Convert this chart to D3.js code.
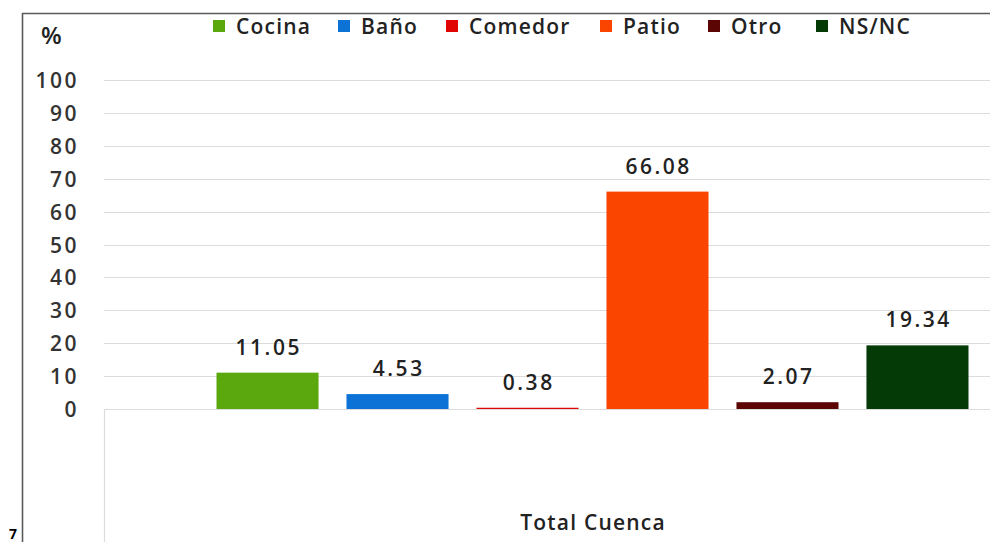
<!DOCTYPE html>
<html><head><meta charset="utf-8">
<script src="https://cdn.jsdelivr.net/npm/d3@7"></script>
<style>body{margin:0;background:#fff}svg{display:block}text{font-family:"Open Sans",sans-serif}</style>
</head><body>
<svg id="c" width="990" height="542"></svg>
<script>
const categories = ["Total Cuenca"];
const series = ["Cocina", "Baño", "Comedor", "Patio", "Otro", "NS/NC"];
const values = [11.05, 4.53, 0.38, 66.08, 2.07, 19.34];
const colors = ["#5aa80e", "#0c72d6", "#e00404", "#f94500", "#5b0505", "#033a06"];
const yTicks = [0, 10, 20, 30, 40, 50, 60, 70, 80, 90, 100];

const svg = d3.select("#c");
const W = 990, H = 542;

// frame
svg.append("line").attr("x1", 22).attr("x2", W).attr("y1", 13.5).attr("y2", 13.5).attr("stroke", "#5a5a5a").attr("stroke-width", 1.6);
svg.append("line").attr("x1", 22.5).attr("x2", 22.5).attr("y1", 13).attr("y2", H).attr("stroke", "#5a5a5a").attr("stroke-width", 1.6);

const y = d3.scaleLinear().domain([0, 100]).range([409, 80]);
const x0 = d3.scaleBand().domain(categories).range([104, 1081]).paddingInner(0).paddingOuter(0);
const x1 = d3.scaleBand().domain(series).range([98.5, 878.5]).paddingInner(0.215).paddingOuter(0.1077);

// gridlines
svg.append("g").selectAll("line").data(yTicks).join("line")
  .attr("x1", 104).attr("x2", W).attr("y1", d => Math.round(y(d)) + 0.5).attr("y2", d => Math.round(y(d)) + 0.5)
  .attr("stroke", "#dcdcdc").attr("stroke-width", 1.2);
svg.append("line").attr("x1", 104.5).attr("x2", 104.5).attr("y1", y(0)).attr("y2", H).attr("stroke", "#dcdcdc").attr("stroke-width", 1.2);

// y axis labels
const yAxis = d3.axisLeft(y).tickValues(yTicks).tickSize(0).tickPadding(0);
const ga = svg.append("g").attr("transform", "translate(79,0)").call(yAxis);
ga.select(".domain").remove();
ga.selectAll("text").attr("font-size", 21).attr("font-weight", 600).attr("fill", "#333")
  .attr("letter-spacing", 2.5).attr("font-family", "'Open Sans',sans-serif").attr("dy", "0.36em");

svg.append("text").attr("x", 41).attr("y", 44).attr("font-size", 24).attr("font-weight", 600).attr("fill", "#222").text("%");

// bars
const g = svg.append("g").selectAll("g").data(categories).join("g").attr("transform", d => `translate(${x0(d)},0)`);
const items = series.map((s, i) => ({ s, v: values[i], c: colors[i] }));
g.selectAll("rect").data(items).join("rect")
  .attr("x", d => x1(d.s)).attr("width", x1.bandwidth())
  .attr("y", d => y(d.v)).attr("height", d => y(0) - y(d.v)).attr("fill", d => d.c);
g.selectAll("text.v").data(items).join("text").attr("class", "v")
  .attr("x", d => x1(d.s) + x1.bandwidth() / 2 + 1.25).attr("y", d => y(d.v) - 18)
  .attr("text-anchor", "middle").attr("font-size", 21).attr("font-weight", 600).attr("fill", "#222")
  .attr("letter-spacing", 2.5)
  .text(d => d.v.toFixed(2));

// category label
svg.selectAll("text.cat").data(categories).join("text").attr("class", "cat")
  .attr("x", d => x0(d) + 489).attr("y", 530).attr("text-anchor", "middle")
  .attr("font-size", 21).attr("font-weight", 600).attr("fill", "#222").attr("letter-spacing", 1.2).text(d => d);

// legend
const legX = [213, 338, 446, 600, 708, 816];
const lg = svg.append("g").selectAll("g").data(items).join("g").attr("transform", (d, i) => `translate(${legX[i]},0)`);
lg.append("rect").attr("x", 0).attr("y", 20).attr("width", 12).attr("height", 12).attr("fill", d => d.c);
lg.append("text").attr("x", 23).attr("y", 34).attr("font-size", 21).attr("font-weight", 600).attr("fill", "#222")
  .attr("letter-spacing", 1.2).text(d => d.s);

svg.append("text").attr("x", 9).attr("y", 539).attr("font-size", 14).attr("font-weight", 700).attr("fill", "#000").text("7");
</script>
</body></html>
